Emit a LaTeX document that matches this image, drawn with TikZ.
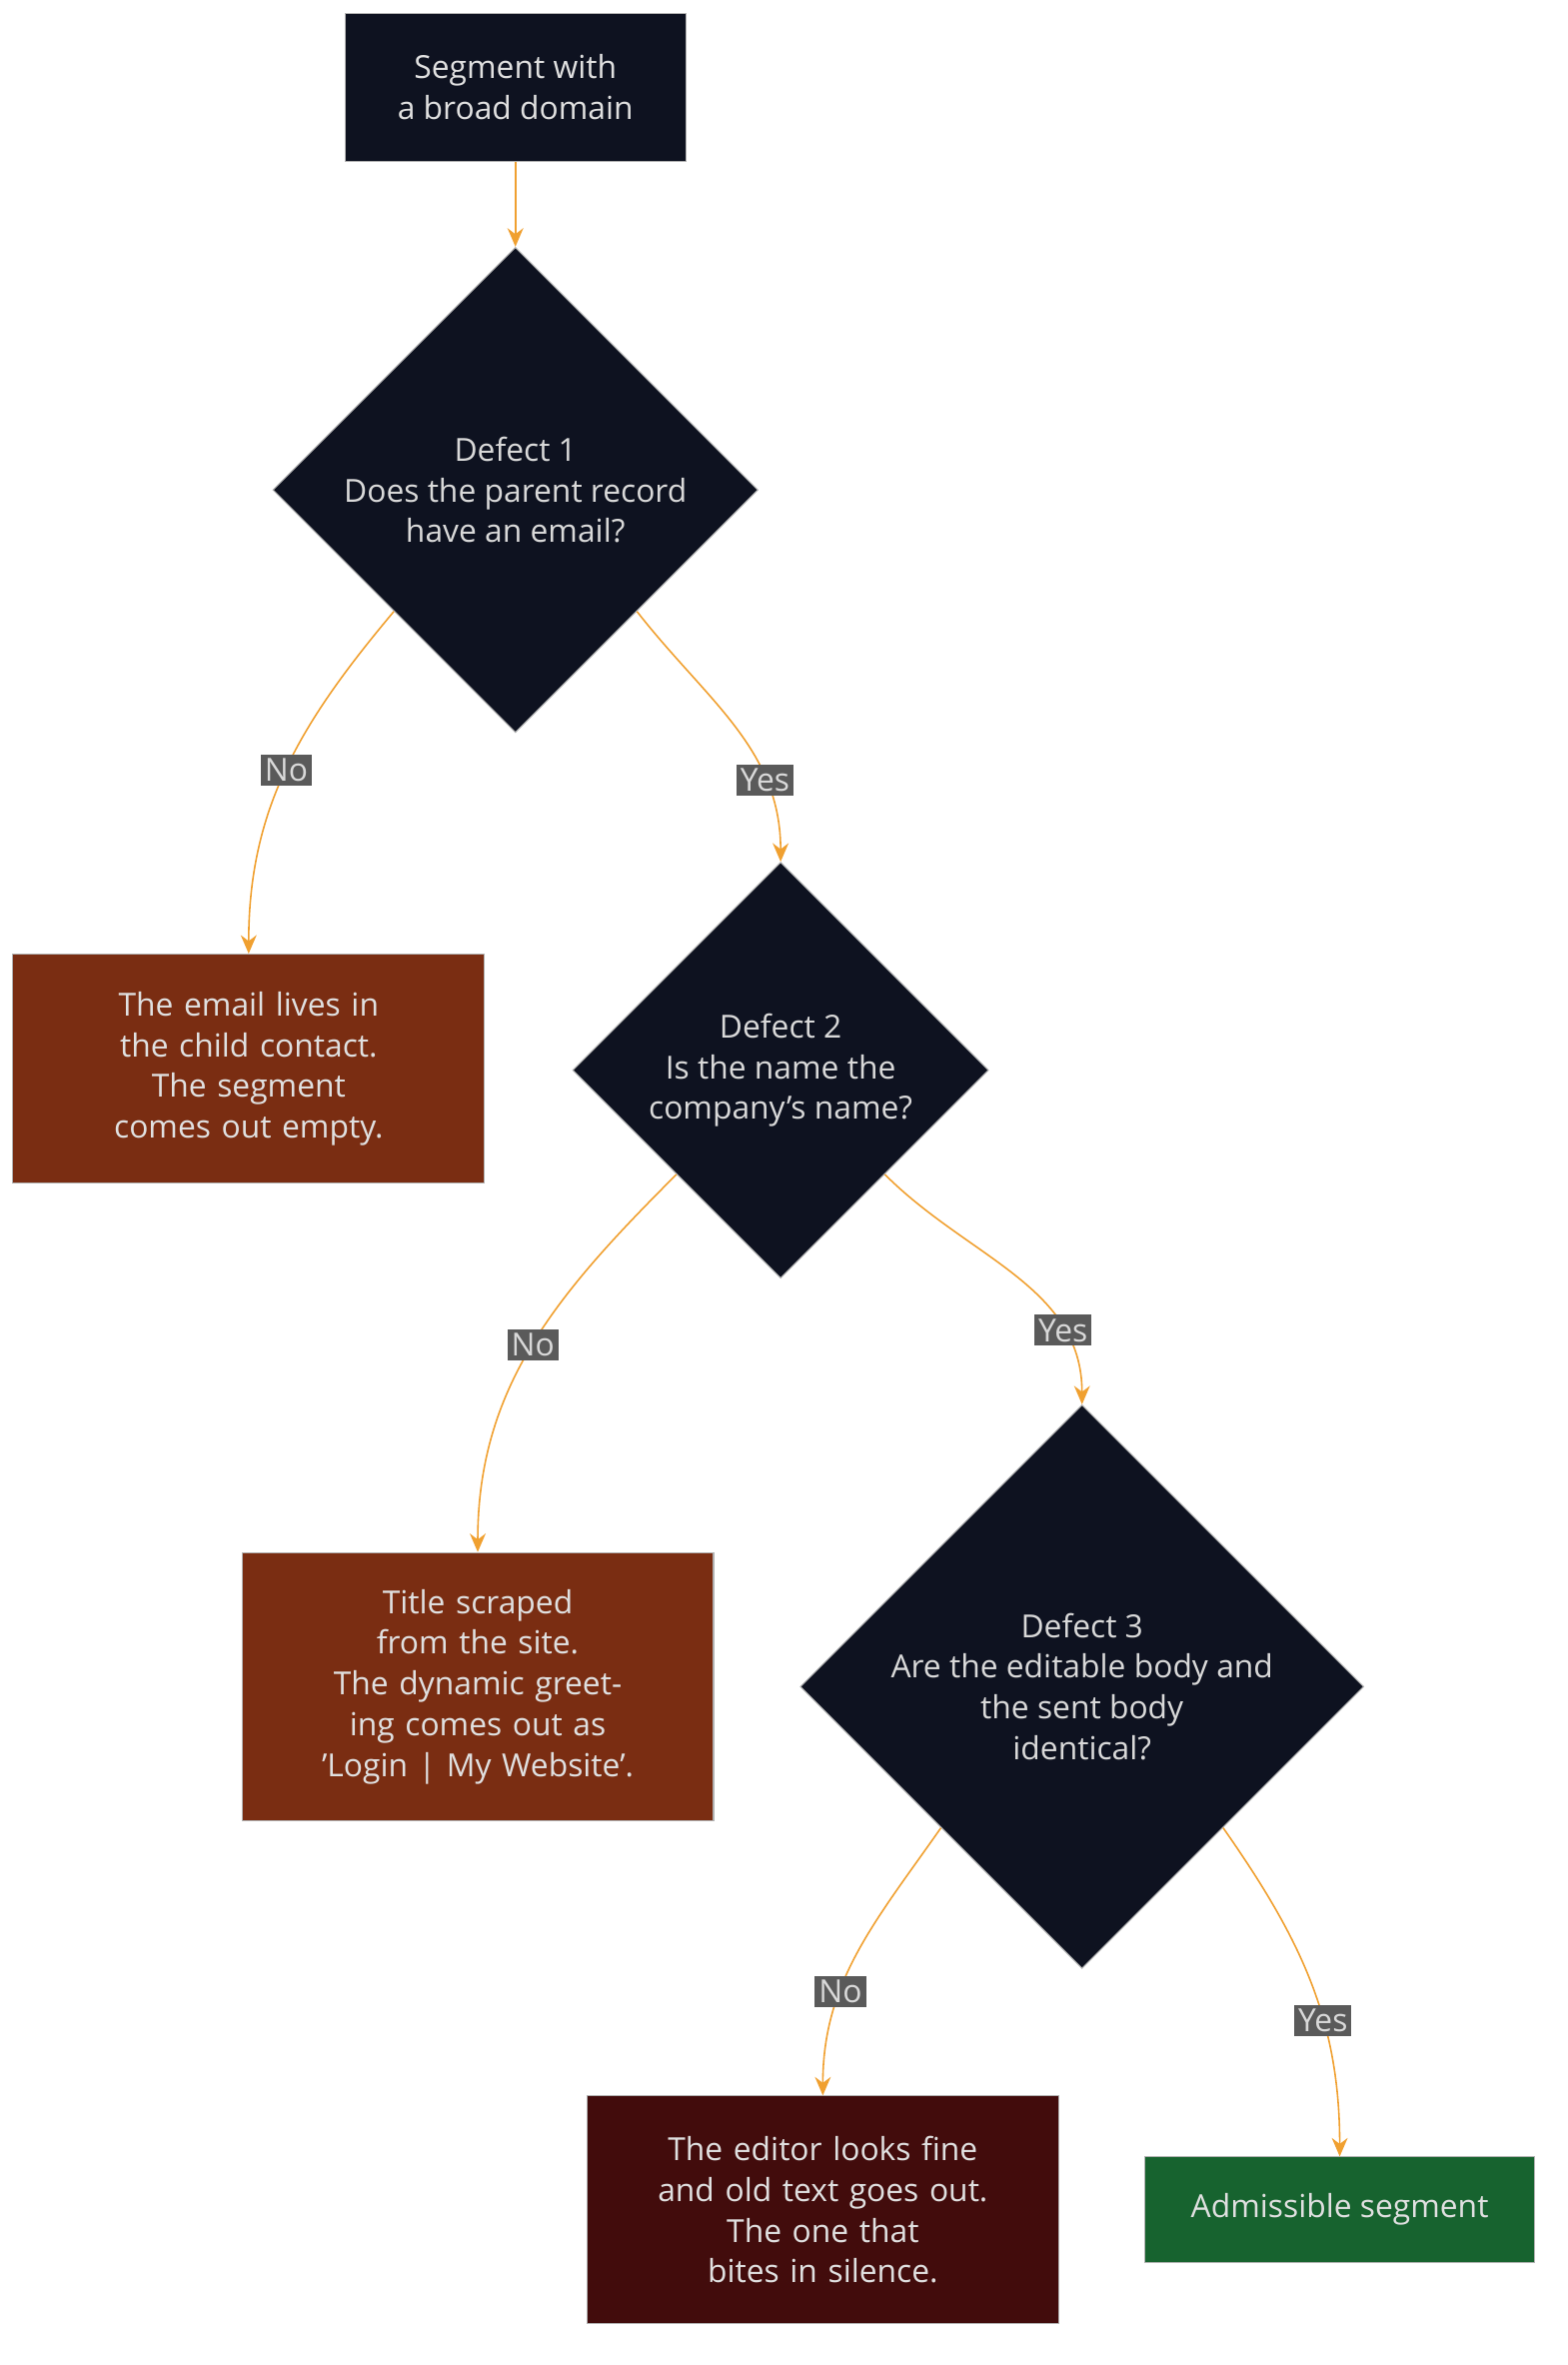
\documentclass[tikz,border=0pt]{standalone}
\usepackage{fontspec}
\setmainfont{Open Sans}
\usetikzlibrary{shapes.geometric, arrows.meta, positioning}
\definecolor{qfill}{HTML}{0E1220}
\definecolor{badfill}{HTML}{7A2D12}
\definecolor{worstfill}{HTML}{420C0C}
\definecolor{okfill}{HTML}{17632F}
\definecolor{flow}{HTML}{F0A030}
\definecolor{lbl}{HTML}{5A5A5A}
\tikzset{
  box/.style={draw=gray!60, rectangle, text=white!88!black, align=center, inner sep=0pt},
  question/.style={draw=gray!60, diamond, fill=qfill, text=white!85!black, align=center, inner sep=0pt, aspect=1},
  flowline/.style={->, >={Stealth[length=7pt,width=6pt]}, draw=flow, line width=0.6pt},
  answer/.style={fill=lbl, text=white!85!black, inner sep=1.5pt, font=\fontsize{12}{14}\selectfont}
}
\begin{document}
\begin{tikzpicture}[x=0.02cm, y=-0.02cm, font=\fontsize{12}{15.4}\selectfont]
    \useasboundingbox (0,0) rectangle (1040,1569);
    % Blocks
    \node (start) [box, fill=qfill, minimum width=4.52cm, minimum height=1.96cm] at (342,58) {Segment with\\a broad domain};
    \node (defect1) [question, minimum width=6.44cm, minimum height=6.44cm] at (342,325) {Defect 1\\Does the parent record\\have an email?};
    \node (emptyseg) [box, fill=badfill, minimum width=6.26cm, minimum height=3.04cm, text width=5.2cm] at (165,709) {The email lives in the child contact.\\The segment comes out empty.};
    \node (defect2) [question, minimum width=5.52cm, minimum height=5.52cm] at (518,710) {Defect 2\\Is the name the\\company's name?};
    \node (title) [box, fill=badfill, minimum width=6.26cm, minimum height=3.56cm, text width=4.6cm] at (317,1119) {Title scraped from the site.\\The dynamic greeting comes out as 'Login | My Website'.};
    \node (defect3) [question, minimum width=7.48cm, minimum height=7.48cm] at (718,1119) {Defect 3\\Are the editable body and\\the sent body\\identical?};
    \node (silent) [box, fill=worstfill, minimum width=6.26cm, minimum height=3.02cm, text width=4.4cm] at (546,1466) {The editor looks fine and old text goes out.\\The one that bites in silence.};
    \node (admissible) [box, fill=okfill, minimum width=5.18cm, minimum height=1.4cm] at (889,1466) {Admissible segment};
    % Arrows
    \draw[flowline] (start) -- (defect1);
    \draw[flowline] (defect1.south west) to[out=-130, in=90] node[answer, pos=0.5] {No} (emptyseg.north);
    \draw[flowline] (defect1.south east) to[out=-52, in=90] node[answer, pos=0.72] {Yes} (defect2.north);
    \draw[flowline] (defect2.south west) to[out=-135, in=90] node[answer, pos=0.5] {No} (title.north);
    \draw[flowline] (defect2.south east) to[out=-45, in=90] node[answer, pos=0.75] {Yes} (defect3.north);
    \draw[flowline] (defect3.south west) to[out=-125, in=90] node[answer, pos=0.65] {No} (silent.north);
    \draw[flowline] (defect3.south east) to[out=-55, in=90] node[answer, pos=0.62] {Yes} (admissible.north);
\end{tikzpicture}
\end{document}
